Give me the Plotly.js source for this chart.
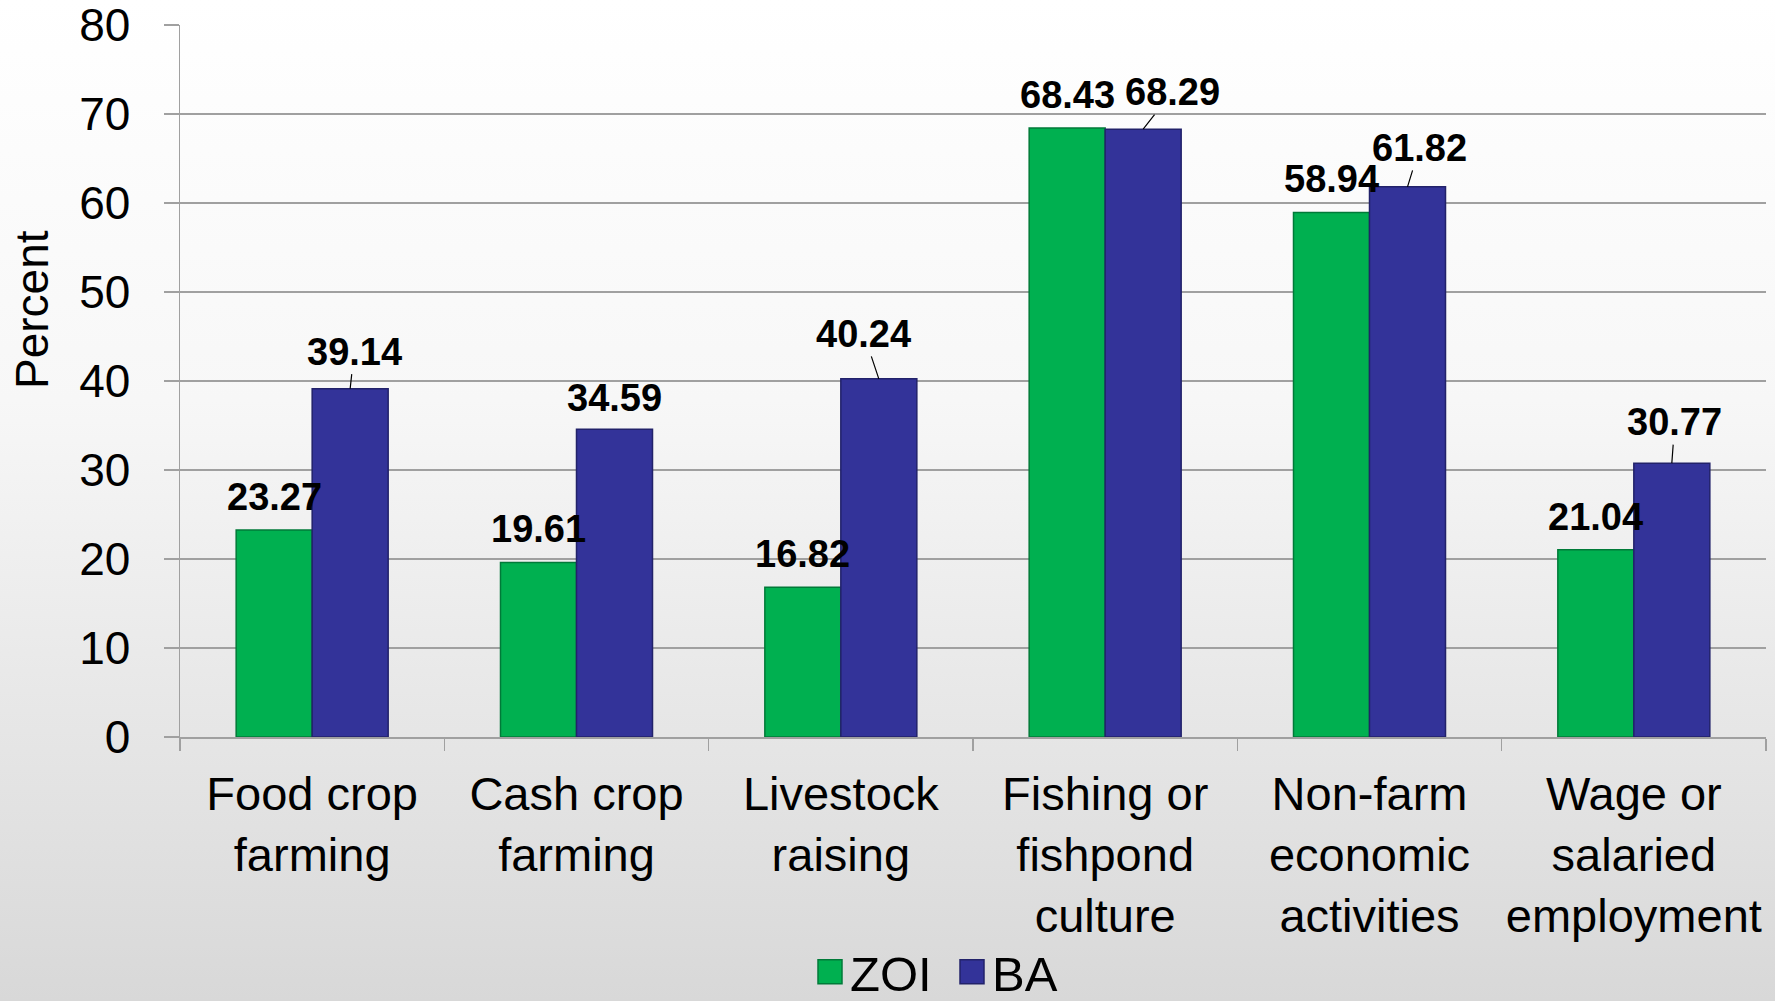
<!DOCTYPE html>
<html>
<head>
<meta charset="utf-8">
<script src="https://cdn.plot.ly/plotly-3.0.1.min.js"></script>
<style>
  html, body { margin: 0; padding: 0; }
  body { width: 1775px; height: 1001px; background: linear-gradient(to bottom, #ffffff 0%, #f7f7f7 40%, #d8d8d8 100%); }
  #chart { width: 1775px; height: 1001px; }
  #chart g.legendpoints path { d: path("M12,12H-12V-12H12Z"); }
</style>
</head>
<body>
<div id="chart"></div>
<script>
const categories = [
  "Food crop<br>farming",
  "Cash crop<br>farming",
  "Livestock<br>raising",
  "Fishing or<br>fishpond<br>culture",
  "Non-farm<br>economic<br>activities",
  "Wage or<br>salaried<br>employment"
];
const zoiValues = [23.27, 19.61, 16.82, 68.43, 58.94, 21.04];
const baValues = [39.14, 34.59, 40.24, 68.29, 61.82, 30.77];
const seriesNames = ["ZOI", "BA"];
const yTicks = [0, 10, 20, 30, 40, 50, 60, 70, 80];

// ---- presentation ----
const FONT = '"Liberation Sans", Arial, Helvetica, sans-serif';
const W = 1775, H = 1001;
const margin = {l: 180, r: 9, t: 25, b: 264};
const bargap = 0.425;
const plotW = W - margin.l - margin.r;
const plotH = H - margin.t - margin.b;
const catW = plotW / categories.length;
const barOff = catW * (1 - bargap) / 4;

// leader-line offsets (pixels) for BA labels: [ax, ay, showArrow]
const baLabelPlacement = [
  [4, -37, true],
  [0, -31, false],
  [-15, -45, true],
  [29, -37, true],
  [12, -39, true],
  [3, -41, true]
];

const traces = [
  {
    type: "bar", name: seriesNames[0], x: categories, y: zoiValues,
    marker: {color: "#00b050", line: {color: "#007a38", width: 1.5}},
    hoverinfo: "y"
  },
  {
    type: "bar", name: seriesNames[1], x: categories, y: baValues,
    marker: {color: "#333399", line: {color: "#22226a", width: 1.5}},
    hoverinfo: "y"
  }
];

const labelFont = {family: FONT, size: 38, color: "#000000", weight: "bold"};
const annotations = [];
zoiValues.forEach((v, i) => {
  annotations.push({
    x: categories[i], y: v, xref: "x", yref: "y",
    text: "<b>" + v.toFixed(2) + "</b>",
    showarrow: false, xanchor: "center", yanchor: "middle",
    xshift: -barOff, yshift: 33, font: labelFont
  });
});
baValues.forEach((v, i) => {
  const p = baLabelPlacement[i];
  if (p[2]) {
    annotations.push({
      x: categories[i], y: v, xref: "x", yref: "y",
      text: "<b>" + v.toFixed(2) + "</b>",
      showarrow: true, arrowhead: 0, arrowwidth: 1.2, arrowcolor: "#000000",
      ax: p[0], ay: p[1], standoff: 0, startstandoff: 0,
      xshift: barOff, font: labelFont
    });
  } else {
    annotations.push({
      x: categories[i], y: v, xref: "x", yref: "y",
      text: "<b>" + v.toFixed(2) + "</b>",
      showarrow: false, xanchor: "center", yanchor: "middle",
      xshift: barOff, yshift: -p[1], font: labelFont
    });
  }
});
annotations.push({
  xref: "paper", yref: "paper",
  x: (32 - margin.l) / plotW, y: (H - margin.b - 310) / plotH,
  text: "Percent", textangle: -90, showarrow: false,
  xanchor: "center", yanchor: "middle",
  font: {family: FONT, size: 46, color: "#000000"}
});

const layout = {
  width: W, height: H,
  margin: margin,
  paper_bgcolor: "rgba(0,0,0,0)",
  plot_bgcolor: "rgba(0,0,0,0)",
  barmode: "group",
  bargap: bargap,
  bargroupgap: 0,
  font: {family: FONT, size: 46, color: "#000000"},
  xaxis: {
    type: "category",
    showline: true, linecolor: "#a0a0a0", linewidth: 1.5,
    ticks: "outside", tickson: "boundaries", ticklen: 12, tickcolor: "#a0a0a0", tickwidth: 1.5,
    showgrid: false,
    tickangle: 0,
    tickfont: {family: FONT, size: 47, color: "#000000"},
    ticklabelstandoff: 15,
    automargin: false
  },
  yaxis: {
    range: [0, 80.001],
    tickvals: yTicks,
    showline: true, linecolor: "#a0a0a0", linewidth: 1.5,
    ticks: "outside", ticklen: 15, tickcolor: "#a0a0a0", tickwidth: 1.5,
    showgrid: true, gridcolor: "#a0a0a0", gridwidth: 1.5,
    zeroline: false,
    tickfont: {family: FONT, size: 46, color: "#000000"},
    ticklabelstandoff: 24,
    ticklabeloverflow: "allow",
    automargin: false
  },
  showlegend: true,
  legend: {
    orientation: "h",
    xref: "container", yref: "container",
    x: 810 / W, xanchor: "left",
    y: (H - 972) / H, yanchor: "middle",
    entrywidth: 97, entrywidthmode: "pixels",
    font: {family: FONT, size: 49, color: "#000000"},
    bgcolor: "rgba(0,0,0,0)",
    itemclick: false
  },
  annotations: annotations
};

const gd = document.getElementById("chart");
function enlargeSwatches() {
  // bigger legend squares, as in the reference
  gd.querySelectorAll("g.legendpoints path").forEach(p => {
    p.setAttribute("d", "M12,12H-12V-12H12Z");
  });
}
Plotly.newPlot(gd, traces, layout, {staticPlot: true, displayModeBar: false}).then(() => {
  if (gd.on) gd.on("plotly_afterplot", enlargeSwatches);
  enlargeSwatches();
  setTimeout(enlargeSwatches, 50);
});
</script>
</body>
</html>
